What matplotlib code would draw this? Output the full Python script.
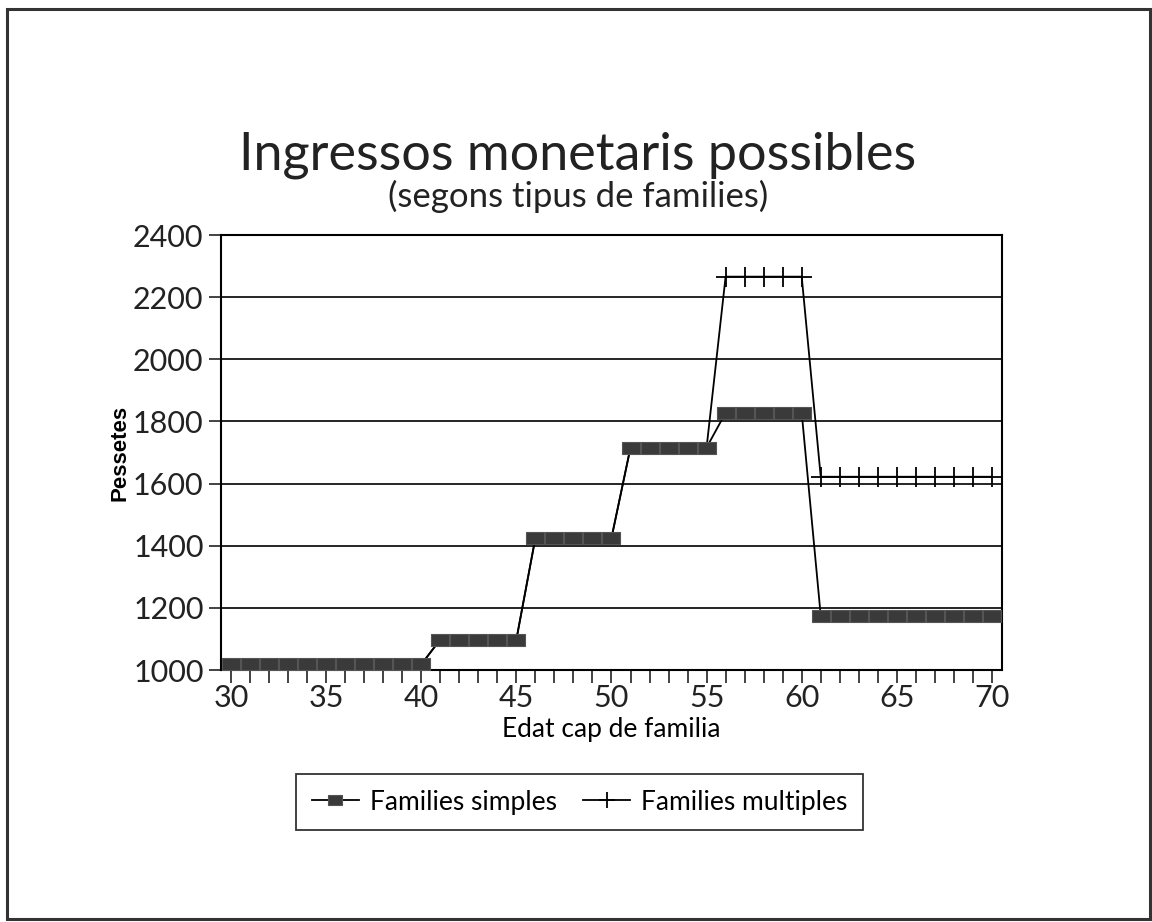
import matplotlib
matplotlib.use("Agg")
import matplotlib.pyplot as plt
from matplotlib.patches import Rectangle
from matplotlib.ticker import MultipleLocator

# edat del cap de familia
edat = list(range(30, 71))

# ingressos (pessetes) llegits del grafic
simples = [1018] * 11 + [1098] * 5 + [1425] * 5 + [1716] * 5 + [1828] * 5 + [1175] * 10
multiples = [1018] * 11 + [1098] * 5 + [1425] * 5 + [1716] * 5 + [2266] * 5 + [1622] * 10

yticks = [1000, 1200, 1400, 1600, 1800, 2000, 2200, 2400]
xticks = [30, 35, 40, 45, 50, 55, 60, 65, 70]

plt.rcParams['font.family'] = ['Lato', 'DejaVu Sans']

fig = plt.figure(figsize=(11.52, 9.22), dpi=100)
ax = fig.add_axes([0.1918, 0.2733, 0.678, 0.4718])

# marcador rectangular
rect = [(-1.4, -1), (1.4, -1), (1.4, 1), (-1.4, 1), (-1.4, -1)]

# fins als 55 anys coincideix amb simples i queda tapada
ax.plot(edat, multiples, color='black', lw=1.3, marker='+', markersize=15,
        markeredgewidth=1.3, markevery=list(range(26, len(edat))),
        label='Families multiples', zorder=3)
ax.plot(edat, simples, color='black', lw=1.3, marker=rect, markersize=13,
        markerfacecolor='#3a3a3a', markeredgecolor='#555555', markeredgewidth=0.8,
        label='Families simples', zorder=4)

ax.set_xlim(29.47, 70.53)
ax.set_ylim(1000, 2400)
ax.set_yticks(yticks)
ax.set_xticks(xticks)
ax.xaxis.set_minor_locator(MultipleLocator(1))
ax.yaxis.grid(True, color='black', lw=1.2)
ax.set_axisbelow(True)
for s in ax.spines.values():
    s.set_linewidth(1.5)
ax.tick_params(axis='both', which='both', direction='out', length=9, width=1.2,
               labelsize=22, colors='#222222')
ax.tick_params(axis='x', which='both', pad=1)

ax.set_xlabel('Edat cap de familia', fontsize=19, labelpad=4)
ax.set_ylabel('Pessetes', fontsize=16, fontweight='bold', labelpad=2,
              family=['Liberation Sans', 'DejaVu Sans'])

fig.text(0.501, 0.832, 'Ingressos monetaris possibles', ha='center', va='center',
         fontsize=37.5, color='#222222')
fig.text(0.502, 0.787, '(segons tipus de families)', ha='center', va='center',
         fontsize=25, color='#222222')

h, l = ax.get_legend_handles_labels()
leg = fig.legend(h[::-1], l[::-1], loc='center', bbox_to_anchor=(0.503, 0.130),
                 ncol=2, fontsize=19, frameon=True, fancybox=False, edgecolor='black',
                 handlelength=1.8, handletextpad=0.4, columnspacing=1.0,
                 borderpad=0.6, markerscale=0.8)
leg.get_frame().set_linewidth(1.3)

# marc exterior
fig.patches.append(Rectangle((0.006, 0.003), 0.992, 0.987, transform=fig.transFigure,
                             fill=False, edgecolor='#333333', lw=2.2))

fig.savefig('out.png', dpi=100, facecolor='white')
